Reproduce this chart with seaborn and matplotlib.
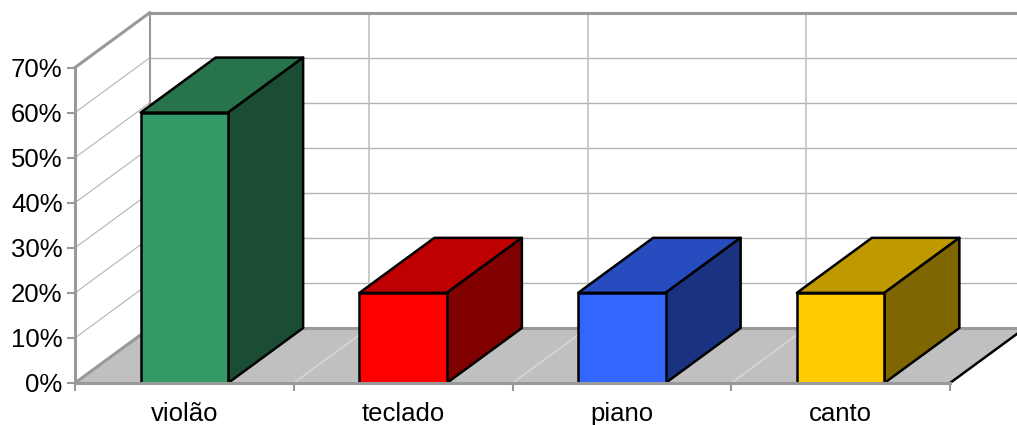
import numpy as np
import pandas as pd
import matplotlib
matplotlib.use("Agg")
import matplotlib.pyplot as plt
import seaborn as sns
from matplotlib.patches import Polygon
from matplotlib.ticker import PercentFormatter

categorias = ["violão", "teclado", "piano", "canto"]
valores = [0.60, 0.20, 0.20, 0.20]
yticks = [0.0, 0.1, 0.2, 0.3, 0.4, 0.5, 0.6, 0.7]

cor_frente = ["#339966", "#ff0000", "#3366ff", "#ffcc00"]
cor_topo = ["#26734c", "#bf0000", "#264cbf", "#bf9900"]
cor_lado = ["#1a4d33", "#800000", "#1a3380", "#806600"]

sns.set_style("white")
plt.rcParams["font.family"] = ["Liberation Sans", "DejaVu Sans"]

W, H = 1017, 425
fig = plt.figure(figsize=(W / 100, H / 100), dpi=100)
x0, x1, y0, y1 = 75, 950, 383, 67.5
ax = fig.add_axes([x0 / W, (H - y0) / H, (x1 - x0) / W, (y0 - y1) / H])

df = pd.DataFrame({"cat": categorias, "val": valores})
sns.barplot(data=df, x="cat", y="val", hue="cat", palette=cor_frente,
            saturation=1, width=0.4, edgecolor="black", linewidth=1.8,
            legend=False, ax=ax, zorder=5)

ax.set_xlim(-0.5, 3.5)
ax.set_ylim(0, 0.7)

# deslocamento da profundidade (75 px para direita, 55 px para cima)
dx = 75 * 4 / (x1 - x0)
dy = 55 * 0.7 / (y0 - y1)
grid = "#b3b3b3"
borda = "#999999"
ymax = 0.7

# chao
floor = Polygon([(-0.5, 0), (3.5, 0), (3.5 + dx, dy), (-0.5 + dx, dy)],
                closed=True, facecolor="#c0c0c0", edgecolor="none",
                clip_on=False, zorder=1)
ax.add_patch(floor)
for b in [0.5, 1.5, 2.5]:
    ax.plot([b, b + dx], [0, dy], color="#dcdcdc", lw=0.9, clip_on=False, zorder=2)
ax.plot([-0.5 + dx, 3.5 + dx], [dy, dy], color=borda, lw=2.2, clip_on=False, zorder=2)
ax.plot([-0.5, -0.5 + dx], [0, dy], color=borda, lw=2.2, clip_on=False, zorder=2)
ax.plot([3.5, 3.5 + dx], [0, dy], color="black", lw=1.8, clip_on=False, zorder=2)

# parede do fundo e lateral
for t in yticks[1:-1]:
    ax.plot([-0.5, -0.5 + dx], [t, t + dy], color=grid, lw=0.8, clip_on=False, zorder=1)
    ax.plot([-0.5 + dx, 3.5 + dx], [t + dy, t + dy], color=grid, lw=1.0, clip_on=False, zorder=1)
for b in [0.5, 1.5, 2.5]:
    ax.plot([b + dx, b + dx], [dy, ymax + dy], color="#c0c0c0", lw=1.2, clip_on=False, zorder=1)
ax.plot([-0.5 + dx, -0.5 + dx], [dy, ymax + dy], color=borda, lw=1.5, clip_on=False, zorder=2)
ax.plot([-0.5 + dx, 3.5 + dx], [ymax + dy, ymax + dy], color=borda, lw=2.2, clip_on=False, zorder=2)
ax.plot([-0.5, -0.5 + dx], [ymax, ymax + dy], color=borda, lw=2.2, clip_on=False, zorder=2)

# topo e lateral das barras
for patch, ct, cl in zip(ax.patches, cor_topo, cor_lado):
    bx, bw, bh = patch.get_x(), patch.get_width(), patch.get_height()
    topo = Polygon([(bx, bh), (bx + bw, bh), (bx + bw + dx, bh + dy), (bx + dx, bh + dy)],
                   closed=True, facecolor=ct, edgecolor="black", lw=1.8,
                   joinstyle="round", clip_on=False, zorder=4)
    lado = Polygon([(bx + bw, 0), (bx + bw + dx, dy), (bx + bw + dx, bh + dy), (bx + bw, bh)],
                   closed=True, facecolor=cl, edgecolor="black", lw=1.8,
                   joinstyle="round", clip_on=False, zorder=4)
    ax.add_patch(topo)
    ax.add_patch(lado)

for s in ["top", "right"]:
    ax.spines[s].set_visible(False)
for s in ["left", "bottom"]:
    ax.spines[s].set_color(borda)
    ax.spines[s].set_linewidth(2.2)
    ax.spines[s].set_zorder(6)

ax.set_yticks(yticks)
ax.yaxis.set_major_formatter(PercentFormatter(1.0, decimals=0))
ax.set_xticks(range(len(categorias)))
ax.set_xticklabels(categorias)
ax.set_xticks([-0.5, 0.5, 1.5, 2.5, 3.5], minor=True)
ax.tick_params(axis="y", length=6, width=1.5, color=borda, labelsize=18.5,
               labelcolor="black", pad=3, left=True)
ax.tick_params(axis="x", which="major", length=0, labelsize=18.5,
               labelcolor="black", pad=14)
ax.tick_params(axis="x", which="minor", length=6, width=1.5, color=borda, bottom=True)
ax.set_xlabel("")
ax.set_ylabel("")
ax.grid(False)

fig.savefig("out.png", dpi=100, facecolor="white")
